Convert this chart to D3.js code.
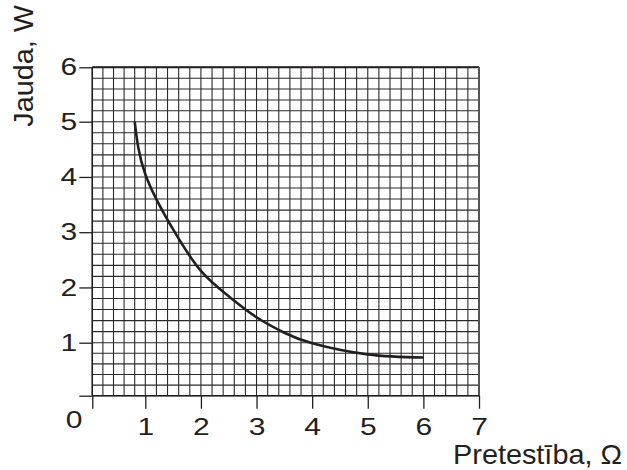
<!DOCTYPE html>
<html><head><meta charset="utf-8">
<script src="https://cdn.jsdelivr.net/npm/d3@7/dist/d3.min.js"></script>
<style>body{margin:0;background:#fff;} svg{display:block;}</style>
</head><body>
<svg id="c" width="627" height="470"></svg>
<script>
const resistance = [0.8, 1.0, 1.5, 2.0, 2.5, 3.0, 3.5, 4.0, 5.0, 6.0];
const power      = [5.0, 4.05, 3.05, 2.3, 1.84, 1.46, 1.18, 0.99, 0.78, 0.72];
const xTicks = [1, 2, 3, 4, 5, 6, 7];
const yTicks = [1, 2, 3, 4, 5, 6];
const xTitle = "Pretestība, Ω";
const yTitle = "Jauda, W";

const svg = d3.select("#c");
const ink = "#231f20";
const FONT = "Liberation Sans, Arial, sans-serif";
const SX = 1.25;
const x = d3.scaleLinear().domain([0, 1, 7]).range([92.3, 145.3, 479]);
const y = d3.scaleLinear().domain([0, 1, 5, 6]).range([395.7, 342.7, 121.7, 67.3]);

// grid
const g = svg.append("g");
const gx = d3.range(0, 35.5).map(i => i / 5);
const gy = d3.range(0, 30.5).map(i => i / 5);
g.selectAll("line.v").data(gx).join("line")
  .attr("x1", d => x(d)).attr("x2", d => x(d))
  .attr("y1", y(0)).attr("y2", y(6))
  .attr("stroke", "#2a2a2a").attr("stroke-width", 1.1);
g.selectAll("line.h").data(gy).join("line")
  .attr("y1", d => y(d)).attr("y2", d => y(d))
  .attr("x1", x(0)).attr("x2", x(7))
  .attr("stroke", "#2a2a2a").attr("stroke-width", 1.1);
// borders
g.append("line").attr("x1", x(0)).attr("x2", x(7)).attr("y1", y(6)).attr("y2", y(6))
  .attr("stroke", ink).attr("stroke-width", 2);
g.append("line").attr("x1", x(7)).attr("x2", x(7)).attr("y1", y(6)).attr("y2", y(0))
  .attr("stroke", "#555").attr("stroke-width", 2);

// axes
const xAxis = d3.axisBottom(x).tickValues([0].concat(xTicks)).tickSize(13).tickPadding(9)
  .tickFormat(d => d === 0 ? "" : d);
const ax = svg.append("g").attr("transform", `translate(0,${y(0)})`).call(xAxis);
const yAxis = d3.axisLeft(y).tickValues([0].concat(yTicks)).tickSize(13).tickPadding(2)
  .tickFormat(d => d === 0 ? "" : d);
const ay = svg.append("g").attr("transform", `translate(${x(0)},0)`).call(yAxis);
[ax, ay].forEach(a => {
  a.select(".domain").remove();
  a.selectAll(".tick line").attr("stroke", ink).attr("stroke-width", 1.3);
  a.selectAll("text").attr("fill", ink).style("font-family", FONT).style("font-size", "24px");
});
ax.selectAll(".tick text").attr("transform", `scale(${SX},1)`);
ay.selectAll(".tick text").attr("x", -15 / SX).attr("transform", `scale(${SX},1)`);

svg.append("line").attr("x1", x(0)).attr("x2", x(0)).attr("y1", y(0)).attr("y2", y(6))
  .attr("stroke", ink).attr("stroke-width", 1.5);
svg.append("line").attr("x1", x(0)).attr("x2", x(7)).attr("y1", y(0)).attr("y2", y(0))
  .attr("stroke", ink).attr("stroke-width", 1.5);

svg.append("text").attr("transform", `translate(74,428) scale(${SX},1)`).attr("text-anchor", "middle")
  .attr("fill", ink).style("font-family", FONT).style("font-size", "24px").text("0");

// curve
const line = d3.line().x((d, i) => x(resistance[i])).y(d => y(d)).curve(d3.curveNatural);
svg.append("path").datum(power).attr("d", line).attr("fill", "none")
  .attr("stroke", ink).attr("stroke-width", 2.6);

// titles
svg.append("text").attr("transform", "translate(622,464) scale(1.03,1)").attr("text-anchor", "end")
  .attr("fill", ink).style("font-family", FONT).style("font-size", "28px").text(xTitle);
svg.append("text").attr("transform", "translate(33,5) rotate(-90) scale(1.03,1)").attr("text-anchor", "end")
  .attr("fill", ink).style("font-family", FONT).style("font-size", "28px").text(yTitle);
</script>
</body></html>
